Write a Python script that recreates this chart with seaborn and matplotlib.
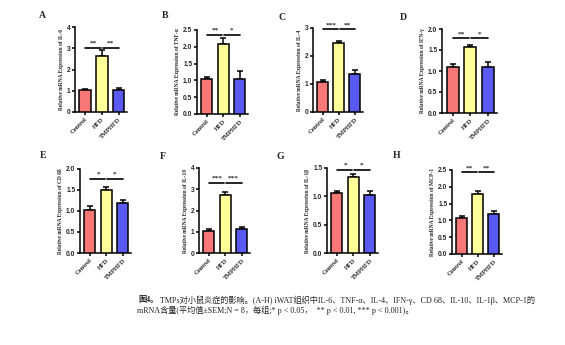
import matplotlib
matplotlib.use("Agg")
import matplotlib.pyplot as plt
import numpy as np
import pandas as pd
import seaborn as sns

sns.set_theme(style="ticks")
plt.rcParams["font.family"] = ["Liberation Serif", "Noto Sans CJK SC"]

groups = ["Control", "HFD", "TMPHFD"]
colors = ["#F87878", "#FFFF99", "#5A5AF2"]

# Means and SEM for each marker (Control, HFD, TMPHFD)
il6_mean = [1.05, 2.65, 1.05]
il6_sem = [0.05, 0.25, 0.10]
tnf_mean = [1.05, 2.07, 1.05]
tnf_sem = [0.05, 0.18, 0.22]
il4_mean = [1.08, 2.45, 1.35]
il4_sem = [0.08, 0.10, 0.15]
ifn_mean = [1.10, 1.57, 1.10]
ifn_sem = [0.07, 0.06, 0.12]
cd68_mean = [1.03, 1.50, 1.20]
cd68_sem = [0.10, 0.08, 0.07]
il10_mean = [1.03, 2.73, 1.12]
il10_sem = [0.10, 0.12, 0.10]
il1b_mean = [1.06, 1.35, 1.03]
il1b_sem = [0.04, 0.05, 0.07]
mcp1_mean = [1.06, 1.80, 1.18]
mcp1_sem = [0.07, 0.08, 0.10]

# Significance marks (Control vs HFD, HFD vs TMPHFD)
il6_sig = ["**", "**"]
tnf_sig = ["**", "*"]
il4_sig = ["***", "**"]
ifn_sig = ["**", "*"]
cd68_sig = ["*", "*"]
il10_sig = ["***", "***"]
il1b_sig = ["*", "*"]
mcp1_sig = ["**", "**"]

panels = [
    # letter, marker, mean, sem, sig, bracket y, ymax, ystep, axes px (left, top, right, bottom), letter px
    ("A", "IL-6", il6_mean, il6_sem, il6_sig, 3.03, 4, 1, (75, 27, 127, 112), (42, 16)),
    ("B", "TNF-α", tnf_mean, tnf_sem, tnf_sig, 2.35, 2.5, 0.5, (197, 30, 248, 114), (165, 16)),
    ("C", "IL-4", il4_mean, il4_sem, il4_sig, 2.95, 3, 1, (313, 28, 363, 112), (282, 18)),
    ("D", "IFN-γ", ifn_mean, ifn_sem, ifn_sig, 1.78, 2.0, 0.5, (442, 29, 497, 113), (403, 17)),
    ("E", "CD 68", cd68_mean, cd68_sem, cd68_sig, 1.76, 2.0, 0.5, (80, 169, 131, 253), (43, 155)),
    ("F", "IL-10", il10_mean, il10_sem, il10_sig, 3.29, 4, 1, (199, 168, 250, 253), (163, 156)),
    ("G", "IL-1β", il1b_mean, il1b_sem, il1b_sig, 1.47, 1.5, 0.5, (327, 168, 378, 253), (280, 156)),
    ("H", "MCP-1", mcp1_mean, mcp1_sem, mcp1_sig, 2.43, 2.5, 0.5, (452, 170, 502, 254), (397, 155)),
]

W, H = 565, 345
LW = 1.1
fig = plt.figure(figsize=(W / 100, H / 100), dpi=100)

for letter, marker, mean, sem, sig, hy, ymax, ystep, (l, t, r, b), (lx, ly) in panels:
    ax = fig.add_axes([l / W, 1 - b / H, (r - l) / W, (b - t) / H])
    df = pd.DataFrame({"group": groups, "value": mean})
    sns.barplot(data=df, x="group", y="value", hue="group", palette=colors,
                order=groups, hue_order=groups, width=0.68, errorbar=None,
                saturation=1, edgecolor="black", linewidth=LW, legend=False,
                ax=ax, zorder=3)
    ax.errorbar(range(3), mean, yerr=[np.zeros(3), sem], fmt="none",
                ecolor="black", elinewidth=LW, capsize=2.2, capthick=LW, zorder=2)
    ax.set_xlim(-0.6, 2.5)
    ax.set_ylim(0, ymax)
    ticks = np.arange(0, ymax + 1e-9, ystep)
    ax.set_yticks(ticks)
    if ystep < 1:
        ax.set_yticklabels([f"{v:.1f}" for v in ticks])
    else:
        ax.set_yticklabels([f"{int(v)}" for v in ticks])
    for lab in ax.get_yticklabels():
        lab.set_fontfamily("Liberation Sans")
        lab.set_fontweight("bold")
        lab.set_fontsize(4.8)
    ax.set_xticks(range(3))
    ax.set_xticklabels(groups, rotation=45, ha="right", rotation_mode="anchor",
                       fontsize=4.6, fontweight="bold")
    ax.tick_params(axis="both", length=2.2, width=LW, pad=1.2, color="black")
    ax.set_xlabel("")
    ax.set_ylabel(f"Relative mRNA Expression of {marker}", fontsize=4.0,
                  fontweight="bold", labelpad=2)
    for s in ("top", "right"):
        ax.spines[s].set_visible(False)
    for s in ("left", "bottom"):
        ax.spines[s].set_linewidth(LW)
        ax.spines[s].set_color("black")
    # significance brackets
    ax.plot([0, 0.94], [hy, hy], color="black", lw=1.2, clip_on=False, zorder=4)
    ax.plot([1.06, 2.0], [hy, hy], color="black", lw=1.2, clip_on=False, zorder=4)
    ax.text(0.5, hy + ymax * 0.025, sig[0], ha="center", va="bottom", fontsize=5.2,
            fontweight="bold", clip_on=False)
    ax.text(1.5, hy + ymax * 0.025, sig[1], ha="center", va="bottom", fontsize=5.2,
            fontweight="bold", clip_on=False)
    fig.text(lx / W, 1 - ly / H, letter, ha="center", va="center", fontsize=7,
             fontweight="bold")

# figure caption
cap_font = ["Liberation Serif", "Noto Sans CJK SC"]
cap_size = 5.9
t1 = fig.text(138 / W, 1 - 300 / H, "图4。", fontsize=cap_size, fontweight="bold",
              family=cap_font, va="center", ha="left")
ax0 = fig.axes[0]
ax0.annotate(" TMPs对小鼠炎症的影响。(A-H) iWAT组织中IL-6、TNF-α、IL-4、IFN-γ、CD 68、IL-10、IL-1β、MCP-1的",
             xy=(1, 0.5), xycoords=t1, va="center", ha="left", fontsize=cap_size,
             family=cap_font, annotation_clip=False)
fig.text(137 / W, 1 - 310.5 / H,
         "mRNA含量(平均值±SEM;N = 8，每组;* p < 0.05，  ** p < 0.01, *** p < 0.001)。",
         fontsize=cap_size, family=cap_font, va="center", ha="left")

fig.savefig("out.png", dpi=100, facecolor="white")
